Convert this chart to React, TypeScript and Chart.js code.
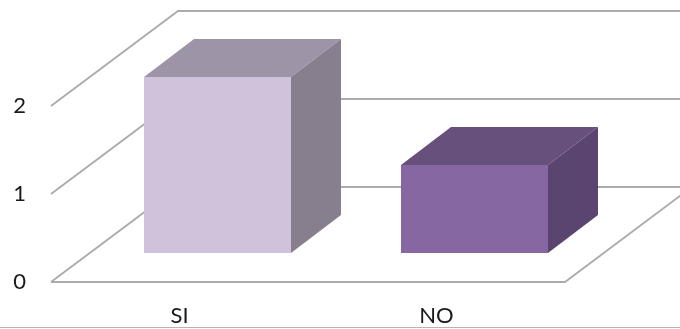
import React, { useEffect, useRef } from "react";
import { Chart, registerables } from "chart.js";

Chart.register(...registerables);

const categories = ["SI", "NO"];
const responses = [2, 1];
const yTicks = [0, 1, 2];

const frontColors = ["#CFC3DC", "#8767A2"];
const topColors = ["#9E94A8", "#67507C"];
const sideColors = ["#877F8E", "#5A4570"];
const gridColor = "#ABABAB";

// Oblique projection: how far the floor and the bars recede into the page.
const floorDepth = { x: 127, y: 95 };
const barOffset = { x: 38, y: 29 };
const barDepth = { x: 50, y: 38 };

const wallsPlugin = {
  id: "obliqueWalls",
  beforeDatasetsDraw(chart: any) {
    const { ctx, chartArea, scales, width } = chart;
    const { left, right, bottom } = chartArea;
    ctx.save();
    ctx.strokeStyle = gridColor;
    ctx.lineWidth = 1.8;
    ctx.beginPath();
    for (const value of yTicks) {
      const y = scales.y.getPixelForValue(value);
      ctx.moveTo(left, y);
      ctx.lineTo(left + floorDepth.x, y - floorDepth.y);
      ctx.lineTo(width, y - floorDepth.y);
    }
    // Front and right edges of the floor
    ctx.moveTo(left, bottom);
    ctx.lineTo(right, bottom);
    ctx.lineTo(right + floorDepth.x, bottom - floorDepth.y);
    ctx.stroke();
    ctx.restore();
  },
  beforeDatasetDraw(chart: any) {
    chart.ctx.save();
    chart.ctx.translate(barOffset.x, -barOffset.y);
  },
  afterDatasetDraw(chart: any, args: any) {
    const { ctx } = chart;
    args.meta.data.forEach((bar: any, i: number) => {
      const x0 = bar.x - bar.width / 2;
      const x1 = bar.x + bar.width / 2;
      const top = bar.y;
      const base = bar.base;
      ctx.fillStyle = topColors[i];
      ctx.beginPath();
      ctx.moveTo(x0, top);
      ctx.lineTo(x0 + barDepth.x, top - barDepth.y);
      ctx.lineTo(x1 + barDepth.x, top - barDepth.y);
      ctx.lineTo(x1, top);
      ctx.closePath();
      ctx.fill();
      ctx.fillStyle = sideColors[i];
      ctx.beginPath();
      ctx.moveTo(x1, top);
      ctx.lineTo(x1 + barDepth.x, top - barDepth.y);
      ctx.lineTo(x1 + barDepth.x, base - barDepth.y);
      ctx.lineTo(x1, base);
      ctx.closePath();
      ctx.fill();
    });
    ctx.restore();
  },
  afterDraw(chart: any) {
    // Thin rule along the bottom edge
    const { ctx, width, height } = chart;
    ctx.save();
    ctx.strokeStyle = "#B5B5B5";
    ctx.lineWidth = 1;
    ctx.beginPath();
    ctx.moveTo(0, height - 1.5);
    ctx.lineTo(width, height - 1.5);
    ctx.stroke();
    ctx.restore();
  },
};

export default function App() {
  const canvasRef = useRef<HTMLCanvasElement | null>(null);

  useEffect(() => {
    document.body.style.margin = "0";
    document.body.style.background = "#FFFFFF";
    const chart = new Chart(canvasRef.current as HTMLCanvasElement, {
      type: "bar",
      data: {
        labels: categories,
        datasets: [
          {
            data: responses,
            backgroundColor: frontColors,
            borderWidth: 0,
            clip: false,
            barPercentage: 147 / 257,
            categoryPercentage: 1,
          } as any,
        ],
      },
      options: {
        responsive: false,
        animation: false,
        layout: { padding: { top: 106, right: 115, left: 0, bottom: 0 } },
        plugins: { legend: { display: false }, tooltip: { enabled: false } },
        scales: {
          x: {
            grid: { display: false, drawTicks: false },
            border: { display: false },
            ticks: {
              color: "#1A1A1A",
              padding: 21,
              maxRotation: 0,
              font: { family: "Lato", size: 22 },
            },
            afterFit: (scale: any) => {
              scale.height = 47;
            },
          },
          y: {
            min: 0,
            max: 2,
            grid: { display: false, drawTicks: false },
            border: { display: false },
            ticks: {
              stepSize: 1,
              color: "#1A1A1A",
              padding: 25,
              font: { family: "Lato", size: 22 },
            },
            afterFit: (scale: any) => {
              scale.width = 51;
            },
          },
        },
      },
      plugins: [wallsPlugin],
    });
    return () => chart.destroy();
  }, []);

  return <canvas ref={canvasRef} width={680} height={329} style={{ display: "block" }} />;
}
